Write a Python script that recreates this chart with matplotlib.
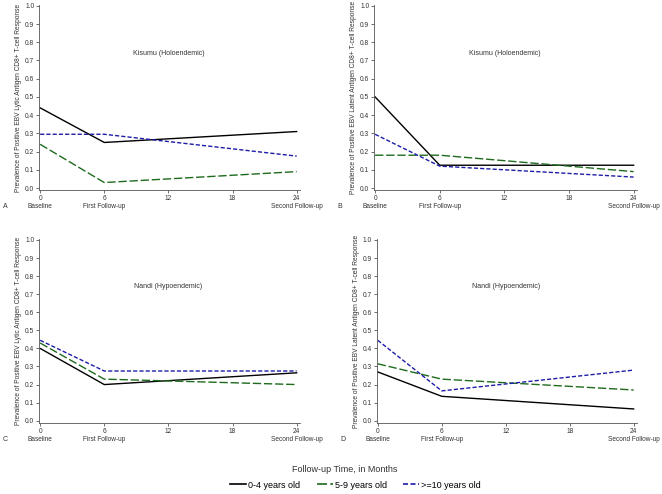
import matplotlib.pyplot as plt
from matplotlib.lines import Line2D

plt.rcParams["font.family"] = ["Liberation Sans", "DejaVu Sans"]

months = [0, 6, 24]
groups = ["0-4 years old", "5-9 years old", ">=10 years old"]
colors = ["black", "#1e6b1e", "#1c1ca8"]
dashes = [None, (6, 2), (3, 1.5)]

lytic_kisumu = [[0.44, 0.25, 0.31], [0.24, 0.03, 0.09], [0.295, 0.295, 0.175]]
latent_kisumu = [[0.50, 0.125, 0.125], [0.18, 0.18, 0.09], [0.295, 0.12, 0.06]]
lytic_nandi = [[0.40, 0.20, 0.265], [0.43, 0.23, 0.20], [0.445, 0.275, 0.275]]
latent_nandi = [[0.27, 0.135, 0.065], [0.315, 0.23, 0.17], [0.445, 0.165, 0.28]]

lytic_label = "Prevalence of Positive EBV Lytic Antigen CD8+ T-cell Response"
latent_label = "Prevalence of Positive EBV Latent Antigen CD8+ T-cell Response"

xticks = [0, 6, 12, 18, 24]
xticklabels = ["0\nBaseline", "6\nFirst Follow-up", "12", "18", "24\nSecond Follow-up"]
yticks = [i / 10 for i in range(11)]

panels = [
    ("A", "Kisumu (Holoendemic)", lytic_label, lytic_kisumu, [0.059, 0.615, 0.394, 0.375]),
    ("B", "Kisumu (Holoendemic)", latent_label, latent_kisumu, [0.565, 0.615, 0.397, 0.375]),
    ("C", "Nandi (Hypoendemic)", lytic_label, lytic_nandi, [0.059, 0.144, 0.394, 0.372]),
    ("D", "Nandi (Hypoendemic)", latent_label, latent_nandi, [0.569, 0.144, 0.393, 0.372]),
]

fig = plt.figure(figsize=(6.62, 4.94), dpi=100)

for letter, site, ylabel, data, rect in panels:
    ax = fig.add_axes(rect)
    for vals, c, d in zip(data, colors, dashes):
        line, = ax.plot(months, vals, color=c, lw=1.0)
        if d is not None:
            line.set_dashes(d)
    ax.set_xlim(-0.1, 24.3)
    ax.set_ylim(-0.012, 1.005)
    ax.set_xticks(xticks)
    ax.set_xticklabels(xticklabels, fontsize=4.7)
    ax.set_yticks(yticks)
    ax.set_yticklabels([f"{v:.1f}" for v in yticks], fontsize=4.8)
    ax.tick_params(length=2, width=0.5, pad=1.5, colors="#333333")
    for s in ["top", "right"]:
        ax.spines[s].set_visible(False)
    for s in ["left", "bottom"]:
        ax.spines[s].set_linewidth(0.6)
        ax.spines[s].set_color("#555555")
    ax.set_ylabel(ylabel, fontsize=4.8, labelpad=2, color="#333333")
    ax.text(12, 0.74, site, fontsize=5, ha="center", va="center", color="#333333")
    ax.text(-0.13, -0.088, letter, transform=ax.transAxes, fontsize=5,
            ha="center", va="center", color="#333333")

fig.text(0.52, 0.049, "Follow-up Time, in Months", fontsize=6.5, ha="center", va="center",
         color="#333333")
handles = []
for g, c, d in zip(groups, colors, dashes):
    h = Line2D([0], [0], color=c, lw=1.2)
    if d is not None:
        h.set_dashes(d)
    handles.append(h)
fig.legend(handles, groups, loc="center", bbox_to_anchor=(0.537, 0.018), ncol=3,
           frameon=False, fontsize=6.5, handlelength=1.8, handletextpad=0.2,
           columnspacing=1.8)

fig.savefig("out.png", dpi=100)
